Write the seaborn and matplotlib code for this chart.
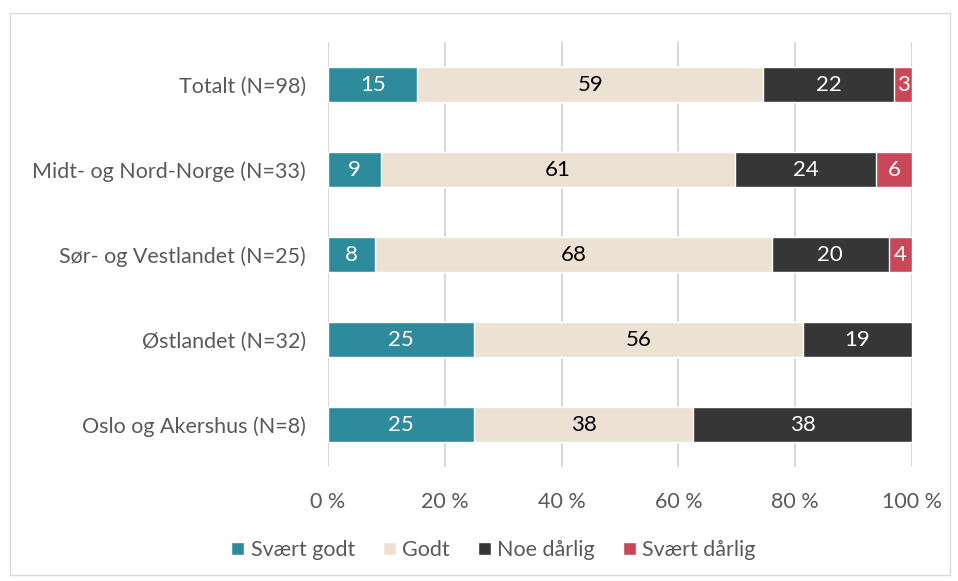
import numpy as np
import pandas as pd
import matplotlib
matplotlib.use("Agg")
import matplotlib.pyplot as plt
from matplotlib.patches import Patch, Rectangle
import seaborn as sns

categories = ["Totalt (N=98)", "Midt- og Nord-Norge (N=33)", "Sør- og Vestlandet (N=25)",
              "Østlandet (N=32)", "Oslo og Akershus (N=8)"]
series = ["Svært godt", "Godt", "Noe dårlig", "Svært dårlig"]
svaert_godt = [15.3, 9.1, 8.0, 25.0, 25.0]
godt = [59.2, 60.6, 68.0, 56.25, 37.5]
noe_darlig = [22.4, 24.2, 20.0, 18.75, 37.5]
svaert_darlig = [3.1, 6.1, 4.0, 0.0, 0.0]
colors = ["#2E8B9C", "#EDE1D3", "#363636", "#C8485A"]
label_colors = ["white", "black", "white", "white"]

df = pd.DataFrame({"kategori": categories, series[0]: svaert_godt, series[1]: godt,
                   series[2]: noe_darlig, series[3]: svaert_darlig})
cum = df[series].cumsum(axis=1)

sns.set_style("white")
plt.rcParams["font.family"] = ["Lato", "DejaVu Sans"]

fig = plt.figure(figsize=(9.58, 5.81), dpi=100)
ax = fig.add_axes([0.3424, 0.1962, 0.6096, 0.7315])

# draw cumulative layers back to front so they look stacked
for s, c in zip(reversed(series), reversed(colors)):
    sns.barplot(data=cum.assign(kategori=df["kategori"]), x=s, y="kategori", orient="h",
                color=c, width=0.41, ax=ax, saturation=1, zorder=3)

for i, s in enumerate(series):
    for j, v in enumerate(df[s]):
        if v <= 0:
            continue
        centre = cum[s][j] - v / 2
        ax.text(centre, j, f"{v:.0f}", ha="center", va="center", fontsize=16,
                color=label_colors[i], zorder=4)

ax.set_xlim(0, 100)
ax.set_ylim(4.5, -0.5)
ax.set_xticks(np.arange(0, 101, 20))
ax.set_xticklabels([f"{t} %" for t in range(0, 101, 20)])
ax.xaxis.grid(True, color="#D9D9D9", linewidth=1.5, zorder=0)
ax.set_axisbelow(True)
ax.set_xlabel("")
ax.set_ylabel("")
for sp in ax.spines.values():
    sp.set_visible(False)
ax.tick_params(axis="both", length=0, labelsize=15.5, colors="#595959", pad=16)
ax.tick_params(axis="x", pad=18)

handles = [Patch(facecolor=c, label=s) for s, c in zip(series, colors)]
fig.legend(handles=handles, loc="center", bbox_to_anchor=(0.515, 0.053), ncol=4,
           frameon=False, fontsize=15.5, labelcolor="#595959", handlelength=0.6,
           handleheight=0.6, handletextpad=0.3, columnspacing=1.3)

fig.patches.append(Rectangle((10 / 958, 6 / 581), 940 / 958, 562 / 581, transform=fig.transFigure,
                             fill=False, edgecolor="#D9D9D9", linewidth=1))

fig.savefig("out.png", dpi=100)
